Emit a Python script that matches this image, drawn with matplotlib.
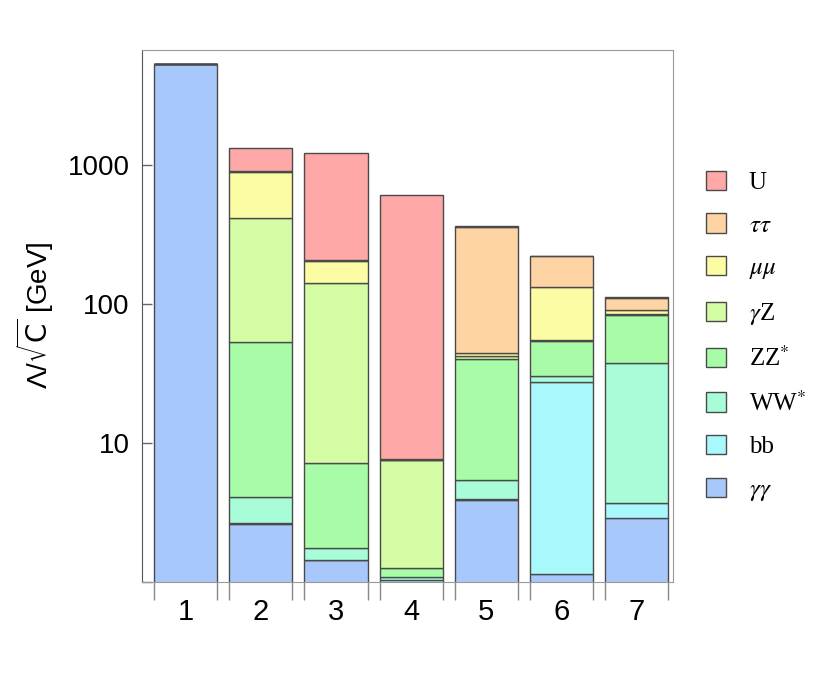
import matplotlib
matplotlib.use("Agg")
import matplotlib.pyplot as plt
from matplotlib.patches import Patch
from matplotlib.font_manager import FontProperties
import numpy as np

# scenarios on the x axis
scenarios = [1, 2, 3, 4, 5, 6, 7]

# channel contributions, stacked bottom -> top
channels = ["gg", "bb", "WW", "ZZ", "gZ", "mumu", "tautau", "U"]
labels = {
    "U": "U",
    "tautau": r"$\tau\tau$",
    "mumu": r"$\mu\mu$",
    "gZ": r"$\gamma$Z",
    "ZZ": r"ZZ$^{*}$",
    "WW": r"WW$^{*}$",
    "bb": "bb",
    "gg": r"$\gamma\gamma$",
}
colors = {
    "U": "#ffa8a8",
    "tautau": "#ffd4a4",
    "mumu": "#fbfca4",
    "gZ": "#d4fca4",
    "ZZ": "#a8fca8",
    "WW": "#a8fcd8",
    "bb": "#a8f8fc",
    "gg": "#a8c8fc",
}

gg     = [5400, 2.61, 1.43, 0.90, 3.88, 1.13, 2.85]
bb     = [0,    0.03, 0.0,  0.13, 0.04, 26.3, 0.84]
WW     = [0,    1.42, 0.31, 0.05, 1.49, 2.9,  33.8]
ZZ     = [0,    49.4, 5.43, 0.18, 34.7, 23.8, 45.8]
gZ     = [0,    360,  134,  6.24, 1.8,  0.9,  0.9]
mumu   = [0,    481,  64.4, 0.05, 2.4,  78.3, 5.7]
tautau = [0,    10,   2,    0.05, 317,  86.7, 21.1]
U      = [0,    428,  1025, 603,  3,    2,    1]

values = {"gg": gg, "bb": bb, "WW": WW, "ZZ": ZZ, "gZ": gZ,
          "mumu": mumu, "tautau": tautau, "U": U}

fig = plt.figure(figsize=(8.3, 6.81), dpi=100)
ax = fig.add_axes([0.171, 0.146, 0.640, 0.781])

x = np.array(scenarios, dtype=float)
width = 0.84
bottom = np.zeros(len(x))
for ch in channels:
    v = np.array(values[ch], dtype=float)
    ax.bar(x, v, width, bottom=bottom, color=colors[ch],
           edgecolor="#4a4a4a", linewidth=1.0)
    bottom += v

ax.set_yscale("log")
ax.set_ylim(1, 6800)
ax.set_xlim(0.415, 7.49)

# y ticks
ax.set_yticks([1, 10, 100, 1000])
ax.set_yticklabels(["", "10", "100", "1000"])
ax.yaxis.set_minor_locator(matplotlib.ticker.NullLocator())
ax.tick_params(axis="y", direction="in", length=7, width=1, color="#666666",
               pad=9, labelsize=20)
for t in ax.get_yticklabels():
    t.set_fontfamily("Liberation Sans")

# x ticks: labels at centres, marks at bar edges
ax.set_xticks(x)
ax.set_xticklabels([str(s) for s in scenarios])
ax.tick_params(axis="x", which="major", length=0, pad=12, labelsize=21)
for t in ax.get_xticklabels():
    t.set_fontfamily("Liberation Sans")
edges = np.concatenate([x - width / 2, x + width / 2])
ax.set_xticks(edges, minor=True)
ax.tick_params(axis="x", which="minor", direction="out", length=13,
               width=1, color="#888888")

for side in ["top", "right", "bottom"]:
    ax.spines[side].set_color("#999999")
ax.spines["left"].set_color("#555555")

ax.set_ylabel("Λ/" + r"$\sqrt{\mathsf{C}}$ [GeV]", fontsize=20,
              fontfamily="Liberation Sans", math_fontfamily="dejavusans",
              labelpad=8)

handles = [Patch(facecolor=colors[ch], edgecolor="#4a4a4a", linewidth=1.0)
           for ch in channels[::-1]]
prop = FontProperties(family="Liberation Serif", size=18, math_fontfamily="stix")
ax.legend(handles, [labels[ch] for ch in channels[::-1]], prop=prop,
          frameon=False, loc="center left", bbox_to_anchor=(1.02, 0.46),
          handlelength=0.8, handleheight=0.8, handletextpad=0.9,
          labelspacing=0.78)

fig.savefig("out.png", dpi=100)
